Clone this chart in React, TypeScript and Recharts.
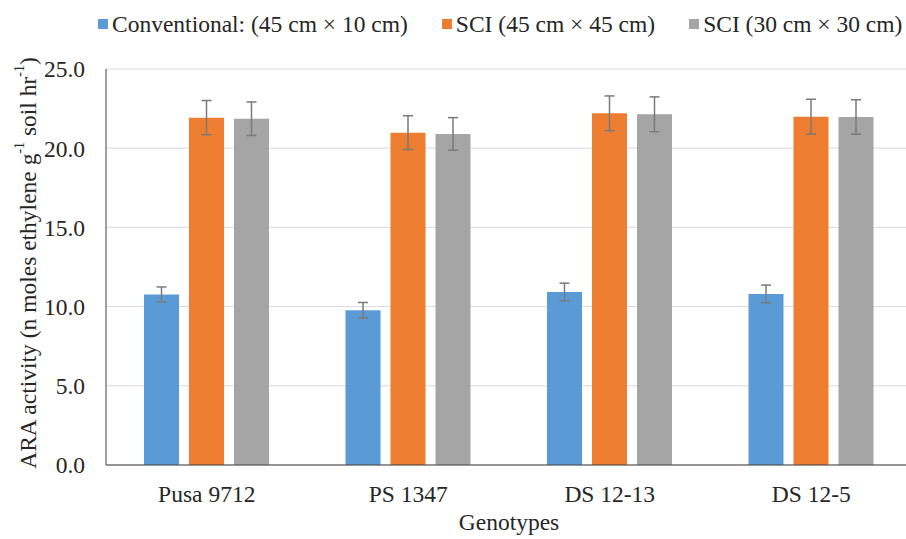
import { BarChart, Bar, XAxis, YAxis, CartesianGrid, ErrorBar, Label } from "recharts";

const genotypes = ["Pusa 9712", "PS 1347", "DS 12-13", "DS 12-5"];
const conventional = [10.77, 9.77, 10.92, 10.8];
const conventionalErr = [0.47, 0.49, 0.56, 0.56];
const sci45 = [21.93, 20.98, 22.2, 21.99];
const sci45Err = [1.08, 1.07, 1.1, 1.1];
const sci30 = [21.86, 20.9, 22.14, 21.97];
const sci30Err = [1.06, 1.03, 1.1, 1.09];
const yTicks = [0, 5, 10, 15, 20, 25];

const series = [
  { key: "conv", err: "convErr", name: "Conventional: (45 cm \u00d7 10 cm)", color: "#5b9bd5" },
  { key: "sci45", err: "sci45Err", name: "SCI (45 cm \u00d7 45 cm)", color: "#ed7d31" },
  { key: "sci30", err: "sci30Err", name: "SCI (30 cm \u00d7 30 cm)", color: "#a5a5a5" },
];

const data = genotypes.map((g, i) => ({
  name: g,
  conv: conventional[i],
  convErr: conventionalErr[i],
  sci45: sci45[i],
  sci45Err: sci45Err[i],
  sci30: sci30[i],
  sci30Err: sci30Err[i],
}));

const font = "'Liberation Serif', 'Times New Roman', serif";
const textColor = "#262626";

const YLabel = ({ viewBox }: any) => {
  const cx = 28;
  const cy = viewBox.y + viewBox.height / 2 - 4;
  return (
    <text
      x={cx}
      y={cy}
      transform={`rotate(-90, ${cx}, ${cy})`}
      textAnchor="middle"
      dominantBaseline="central"
      fontFamily={font}
      fontSize={23.5}
      fill={textColor}
    >
      <tspan>ARA activity (n moles ethylene g</tspan>
      <tspan fontSize={14} dy={-9}>-1</tspan>
      <tspan dy={9}> soil hr</tspan>
      <tspan fontSize={14} dy={-9}>-1</tspan>
      <tspan dy={9}>)</tspan>
    </text>
  );
};

const XLabel = ({ viewBox }: any) => (
  <text
    x={viewBox.x + viewBox.width / 2}
    y={522}
    textAnchor="middle"
    dominantBaseline="central"
    fontFamily={font}
    fontSize={23.5}
    fill={textColor}
  >
    Genotypes
  </text>
);

export default function App() {
  return (
    <div style={{ position: "absolute", left: 0, top: 0, width: 906, height: 539, overflow: "hidden", background: "#fff" }}>
      <div
        style={{
          position: "absolute",
          top: 8,
          left: 98,
          display: "flex",
          alignItems: "center",
          gap: 34,
          fontFamily: font,
          fontSize: 23.5,
          color: textColor,
          whiteSpace: "nowrap",
          lineHeight: "32px",
        }}
      >
        {series.map((s) => (
          <div key={s.key} style={{ display: "flex", alignItems: "center" }}>
            <span style={{ width: 10, height: 10, background: s.color, marginRight: 4, display: "inline-block" }} />
            <span>{s.name}</span>
          </div>
        ))}
      </div>
      <BarChart
        width={912}
        height={539}
        data={data}
        margin={{ top: 69, right: 0, bottom: 0, left: 0 }}
        barSize={35}
        barGap={10}
      >
        <CartesianGrid vertical={false} stroke="#d9d9d9" strokeWidth={1} />
        <XAxis
          dataKey="name"
          height={74}
          axisLine={{ stroke: "#404040" }}
          tickLine={false}
          tickSize={0}
          tickMargin={20}
          tick={{ fontFamily: font, fontSize: 23.5, fill: textColor }}
        >
          <Label content={<XLabel />} />
        </XAxis>
        <YAxis
          width={106}
          domain={[0, 25]}
          ticks={yTicks}
          tickFormatter={(v: number) => v.toFixed(1)}
          axisLine={{ stroke: "#404040" }}
          tickLine={false}
          tickSize={0}
          tickMargin={21}
          tick={{ fontFamily: font, fontSize: 23.5, fill: textColor }}
        >
          <Label content={<YLabel />} />
        </YAxis>
        {series.map((s) => (
          <Bar key={s.key} dataKey={s.key} name={s.name} fill={s.color} isAnimationActive={false}>
            <ErrorBar dataKey={s.err} width={5} stroke="#7a7a7a" strokeWidth={1.5} direction="y" isAnimationActive={false} />
          </Bar>
        ))}
      </BarChart>
    </div>
  );
}
